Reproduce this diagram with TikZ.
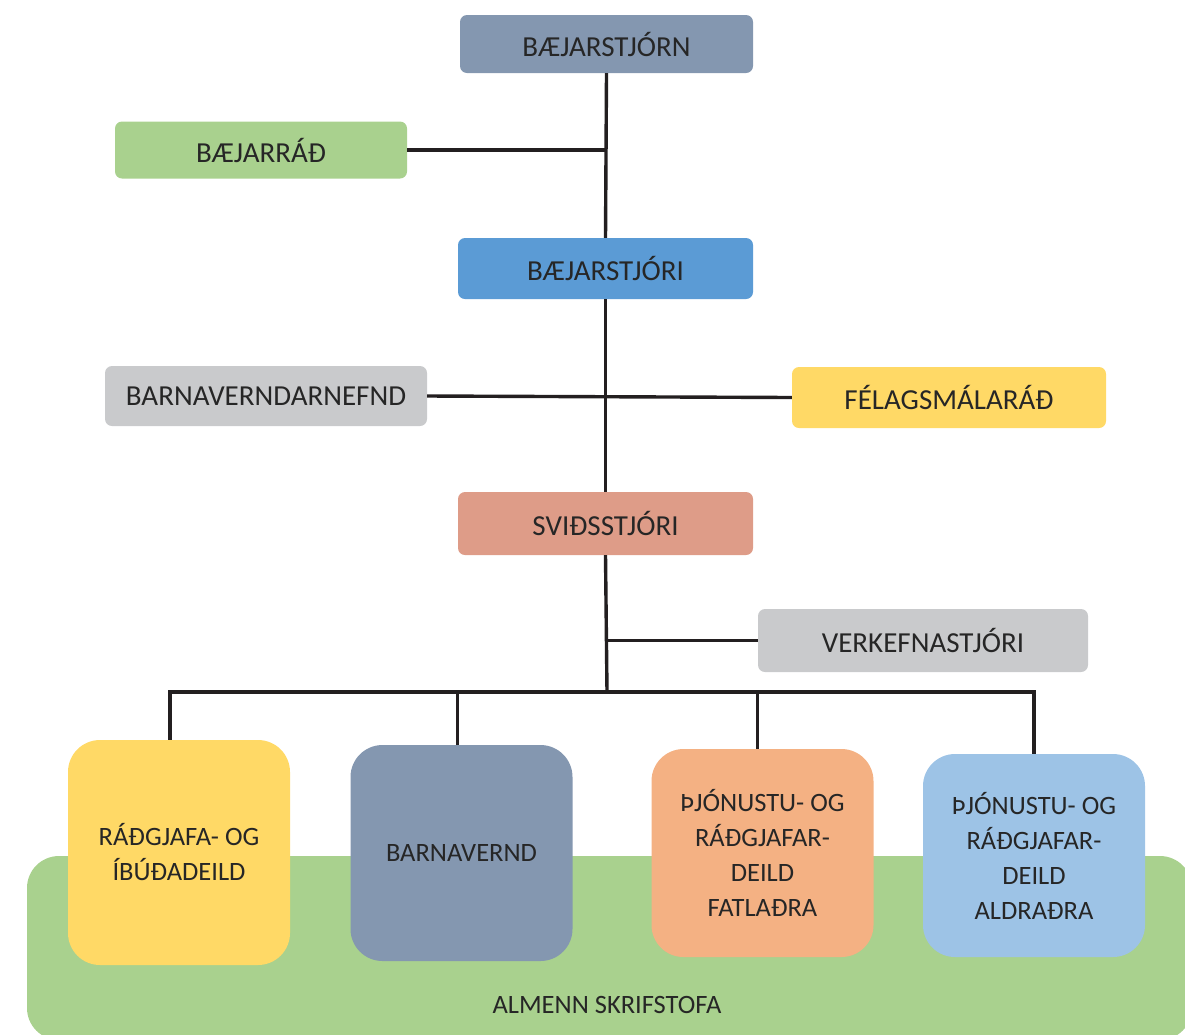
\documentclass[tikz,border=0pt]{standalone}
\usepackage{fontspec}
\setmainfont{Carlito}
\definecolor{bluegray}{HTML}{8497B0}
\definecolor{midblue}{HTML}{5B9BD5}
\definecolor{lightgreen}{HTML}{A9D18E}
\definecolor{lightgray}{HTML}{C9CACC}
\definecolor{gold}{HTML}{FFD966}
\definecolor{salmon}{HTML}{DE9C88}
\definecolor{peach}{HTML}{F4B183}
\definecolor{skyblue}{HTML}{9DC3E6}
\definecolor{txt}{HTML}{262626}
\definecolor{lin}{HTML}{231F20}
\begin{document}
\begin{tikzpicture}[x=1pt,y=-1pt,
  box/.style={rounded corners=7pt,inner sep=0pt,text=txt,text depth=0pt,font=\fontsize{29}{35}\selectfont},
  dept/.style={rounded corners=32pt,inner sep=0pt,text=txt,align=center,minimum width=222pt,font=\fontsize{26.5}{35}\selectfont},
  link/.style={line width=3.4pt,draw=lin}]
  \useasboundingbox (0,0) rectangle (1185,1034);
  \begin{scope}
    \clip (0,0) rectangle (1185,1034);
    \fill[lightgreen,rounded corners=32pt] (27,856) rectangle (1192,1040);
  \end{scope}
  \node[text=txt,font=\fontsize{26.5}{32}\selectfont] (almenn) at (607,1005) {ALMENN SKRIFSTOFA};

  \node[box,fill=bluegray,minimum width=293pt,minimum height=58pt] (bstjorn) at (606.5,44) {BÆJARSTJÓRN};
  \node[box,fill=lightgreen,minimum width=292pt,minimum height=57pt] (brad) at (261,150) {BÆJARRÁÐ};
  \node[box,fill=midblue,minimum width=295pt,minimum height=61pt] (bstjori) at (605.5,268.5) {BÆJARSTJÓRI};
  \node[box,fill=lightgray,minimum width=322pt,minimum height=60pt] (bnefnd) at (266,396) {BARNAVERNDARNEFND};
  \node[box,fill=gold,minimum width=314pt,minimum height=61pt] (felag) at (949,397.5) {FÉLAGSMÁLARÁÐ};
  \node[box,fill=salmon,minimum width=295pt,minimum height=63pt] (svid) at (605.5,523.5) {SVIÐSSTJÓRI};
  \node[box,fill=lightgray,minimum width=330pt,minimum height=63pt] (verk) at (923,640.5) {VERKEFNASTJÓRI};

  \node[dept,fill=gold,minimum height=225pt] (radg) at (179,852.5) {RÁÐGJAFA- OG\\ÍBÚÐADEILD};
  \node[dept,fill=bluegray,minimum height=216pt] (barnv) at (461.5,853) {BARNAVERND};
  \node[dept,fill=peach,minimum height=208pt] (fatl) at (762.5,853) {ÞJÓNUSTU- OG\\RÁÐGJAFAR-\\DEILD\\FATLAÐRA};
  \node[dept,fill=skyblue,minimum height=203pt] (aldr) at (1034,855.5) {ÞJÓNUSTU- OG\\RÁÐGJAFAR-\\DEILD\\ALDRAÐRA};

  \coordinate (bus) at (607,692);
  \draw[link] (bstjorn.south) -- (bstjori.north);
  \draw[link] (brad.east) -- (brad.east -| bstjorn.south);
  \draw[link] (bstjori.south) -- (svid.north);
  \draw[link] (bnefnd.east) -- (felag.west);
  \draw[link] (svid.south) -- (bus);
  \draw[link] (verk.west) -- (verk.west -| bus);
  \draw[link] ([xshift=-9pt]radg.north) |- (bus) -| (aldr.north);
  \draw[link] ([xshift=-4pt]barnv.north) -- ([xshift=-4pt]barnv.north |- bus);
  \draw[link] ([xshift=-5pt]fatl.north) -- ([xshift=-5pt]fatl.north |- bus);
\end{tikzpicture}
\end{document}
